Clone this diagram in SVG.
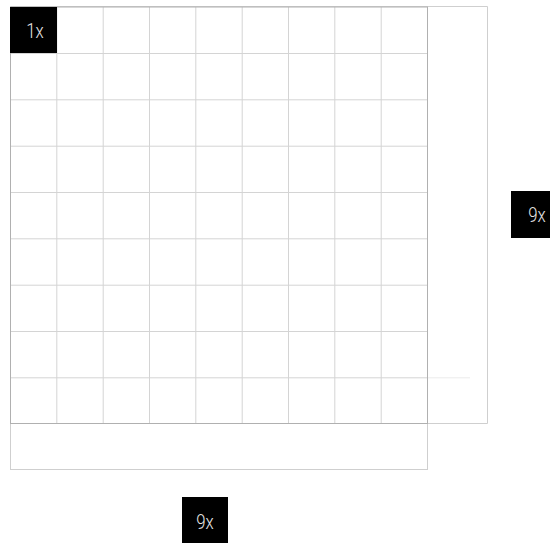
<svg xmlns="http://www.w3.org/2000/svg" width="550" height="543" viewBox="0 0 550 543">
<style>
.g{stroke:#d4d4d4;stroke-width:1;fill:none}
.b{stroke:#b0b0b0;stroke-width:1;fill:none}
.o{stroke:#cfcfcf;stroke-width:1;fill:none}
.f{stroke:#ececec;stroke-width:1;fill:none}
.lb{fill:#000}
.t{font-family:Roboto,"Liberation Sans",sans-serif;font-size:21px;font-weight:300;fill:#e6e6e6;text-anchor:middle}
</style>
<rect width="550" height="543" fill="#fff"/>
<g id="extensions">
<path class="o" d="M10.5 6.5H487.5V423.5H427.5"/>
<rect class="o" x="10.5" y="423.5" width="417" height="46"/>
</g>
<g id="grid">
<path class="g" d="M56.8 7V423M103.2 7V423M149.5 7V423M195.8 7V423M242.2 7V423M288.5 7V423M334.8 7V423M381.2 7V423"/>
<path class="g" d="M10 53.5H427M10 99.8H427M10 146.2H427M10 192.5H427M10 238.8H427M10 285.2H427M10 331.5H427M10 377.8H427"/>
<path class="f" d="M427 377.8H470"/>
<rect class="b" x="10.5" y="7" width="417" height="416.5"/>
</g>
<g id="label1x">
<rect class="lb" x="10" y="7" width="47" height="46"/>
<text class="t" transform="translate(35 38) scale(0.8 1)">1x</text>
</g>
<g id="label9x-bottom">
<rect class="lb" x="182" y="497" width="46" height="46"/>
<text class="t" transform="translate(205 529) scale(0.8 1)">9x</text>
</g>
<g id="label9x-right">
<rect class="lb" x="511" y="191" width="40" height="47"/>
<text class="t" transform="translate(537 222) scale(0.8 1)">9x</text>
</g>
</svg>
